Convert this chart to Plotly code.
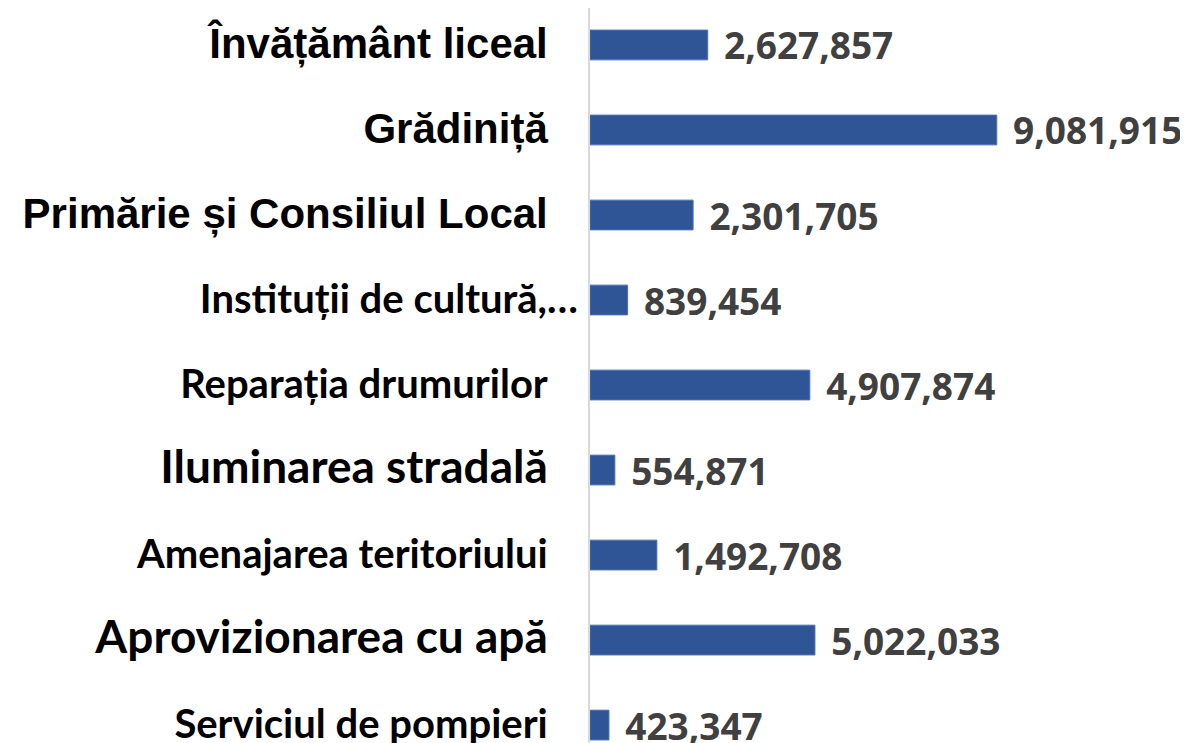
import plotly.graph_objects as go

categories = [
    "Învățământ liceal",
    "Grădiniță",
    "Primărie și Consiliul Local",
    "Instituții de cultură,…",
    "Reparația drumurilor",
    "Iluminarea stradală",
    "Amenajarea teritoriului",
    "Aprovizionarea cu apă",
    "Serviciul de pompieri",
]
values = [2627857, 9081915, 2301705, 839454, 4907874, 554871, 1492708, 5022033, 423347]

# label styles (family, size, trailing pad) per category
label_styles = {
    "Învățământ liceal": ("Liberation Sans", 42, True),
    "Grădiniță": ("Liberation Sans", 42, True),
    "Primărie și Consiliul Local": ("Liberation Sans", 42, True),
    "Instituții de cultură,…": ("Lato", 40, False),
    "Reparația drumurilor": ("Lato", 40, True),
    "Iluminarea stradală": ("Lato", 46, True),
    "Amenajarea teritoriului": ("Lato", 40, True),
    "Aprovizionarea cu apă": ("Lato", 46, True),
    "Serviciul de pompieri": ("Lato", 40, True),
}

def make_tick(c):
    fam, sz, pad = label_styles[c]
    t = f'<span style="font-family:{fam};font-size:{sz}px">{c}</span>'
    if pad:
        t += '<span style="font-family:Liberation Sans;font-size:54px">\u00a0\u00a0</span>'
    return t

ticktext = [make_tick(c) for c in categories]
bar_text = ["\u00a0\u200a" + f"{v:,}" for v in values]

fig = go.Figure(
    go.Bar(
        x=values,
        y=categories,
        orientation="h",
        width=0.35,
        marker=dict(color="#2F5597", line=dict(color="#4A6FB5", width=1)),
        text=bar_text,
        textposition="outside",
        constraintext="none",
        textfont=dict(family="Open Sans", size=37, color="#404040", weight="bold"),
        cliponaxis=False,
    )
)

fig.update_layout(
    width=1188,
    height=743,
    margin=dict(l=582, r=0, t=0, b=0, autoexpand=False),
    plot_bgcolor="white",
    paper_bgcolor="white",
    showlegend=False,
    bargap=0.65,
)
fig.update_xaxes(range=[0, 13.53e6], showgrid=False, showticklabels=False, zeroline=False,
                 showline=False, automargin=False)
fig.update_yaxes(
    type="category",
    categoryorder="array",
    categoryarray=categories,
    tickmode="array",
    tickvals=categories,
    ticktext=ticktext,
    range=[8.305, -0.435],
    showline=True,
    linecolor="#D9D9D9",
    linewidth=2,
    showgrid=False,
    ticks="",
    automargin=False,
    ticklabelstandoff=3,
    tickfont=dict(family="Liberation Sans", size=36, color="black", weight="bold"),
)

fig.write_html("out.html")
